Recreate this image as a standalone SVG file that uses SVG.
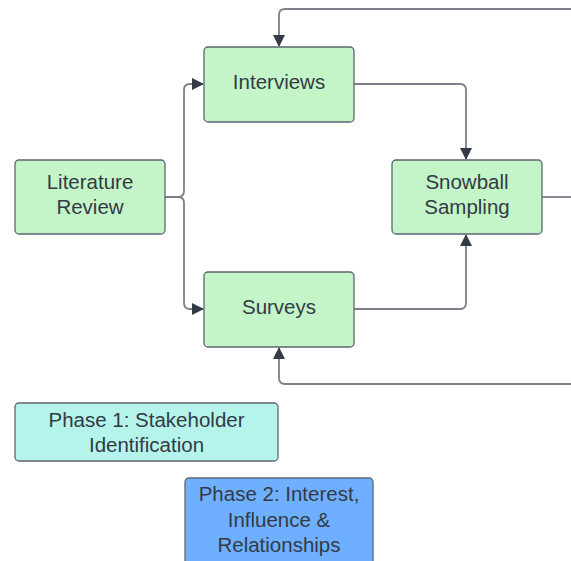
<svg xmlns="http://www.w3.org/2000/svg" width="571" height="561" viewBox="0 0 571 561">
<defs>
<style>
.box{stroke:#5f6670;stroke-width:1.3}
.g{fill:#c3f5c8}
.t{font-family:"Liberation Sans",Arial,sans-serif;font-size:20.5px;fill:#333a45;text-anchor:middle}
.c{fill:none;stroke:#7b8089;stroke-width:1.8;stroke-linejoin:round}
</style>
<marker id="ah" markerWidth="12" markerHeight="12" refX="11" refY="6" orient="auto" markerUnits="userSpaceOnUse">
<path d="M0,0 L12,6 L0,12 Z" fill="#343b47"/>
</marker>
</defs>
<rect width="571" height="561" fill="#ffffff"/>
<g id="connectors">
<path class="c" d="M165,197 H178 Q184,197 184,191 V90 Q184,84 190,84 H203" marker-end="url(#ah)"/>
<path class="c" d="M178,197 Q184,197 184,203 V303 Q184,309 190,309 H203" marker-end="url(#ah)"/>
<path class="c" d="M354,84 H460 Q466,84 466,90 V159" marker-end="url(#ah)"/>
<path class="c" d="M354,309 H460 Q466,309 466,303 V235" marker-end="url(#ah)"/>
<path class="c" d="M542,197 H571"/>
<path class="c" d="M571,9 H285 Q279,9 279,15 V46" marker-end="url(#ah)"/>
<path class="c" d="M571,384 H285 Q279,384 279,378 V348" marker-end="url(#ah)"/>
</g>
<g id="literature-review">
<rect class="box g" x="15" y="160" width="150" height="74" rx="4"/>
<text class="t" x="90" y="189">Literature</text>
<text class="t" x="90" y="214">Review</text>
</g>
<g id="interviews">
<rect class="box g" x="204" y="47" width="150" height="75" rx="4"/>
<text class="t" x="279" y="89">Interviews</text>
</g>
<g id="surveys">
<rect class="box g" x="204" y="272" width="150" height="75" rx="4"/>
<text class="t" x="279" y="314">Surveys</text>
</g>
<g id="snowball-sampling">
<rect class="box g" x="392" y="160" width="150" height="74" rx="4"/>
<text class="t" x="467" y="189">Snowball</text>
<text class="t" x="467" y="214">Sampling</text>
</g>
<g id="phase-1">
<rect class="box" fill="#b4f4eb" x="15" y="403" width="263" height="58" rx="4"/>
<text class="t" x="146.5" y="427">Phase 1: Stakeholder</text>
<text class="t" x="146.5" y="452">Identification</text>
</g>
<g id="phase-2">
<rect class="box" fill="#6eb0ff" x="185" y="478" width="188" height="90" rx="4"/>
<text class="t" x="279" y="501">Phase 2: Interest,</text>
<text class="t" x="279" y="527">Influence &amp;</text>
<text class="t" x="279" y="552">Relationships</text>
</g>
</svg>
